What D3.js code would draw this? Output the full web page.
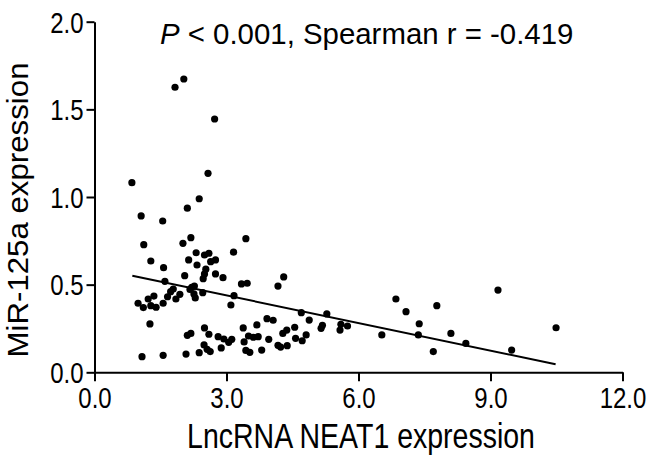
<!DOCTYPE html>
<html>
<head>
<meta charset="utf-8">
<script src="https://cdn.jsdelivr.net/npm/d3@7"></script>
<style>
  body { margin: 0; background: #fff; }
  text { font-family: "Liberation Sans", Arial, sans-serif; fill: #000; }
</style>
</head>
<body>
<svg id="chart"></svg>
<script>
// values
const neat1 = [1.83, 2.03, 2.73, 0.85, 2.58, 2.38, 2.11, 1.06, 1.55, 1.12,
  1.28, 1.57, 2.01, 2.19, 2.31, 2.50, 2.60, 2.14, 2.33, 2.64,
  2.75, 2.53, 2.50, 2.47, 2.75, 2.92, 3.16, 3.44, 2.05, 1.60,
  1.79, 1.73, 1.94, 2.21, 2.27, 2.17, 2.26, 2.29, 2.46, 3.34,
  3.47, 4.17, 3.17, 3.10, 1.66, 1.85, 1.35, 1.22, 0.99, 1.11,
  1.28, 1.40, 1.56, 1.26, 2.50, 2.60, 2.11, 2.19, 2.81, 2.94,
  3.12, 3.05, 2.49, 2.56, 2.63, 2.88, 2.38, 2.08, 1.56, 1.08,
  3.38, 3.69, 3.92, 4.06, 3.50, 3.61, 3.72, 3.40, 3.96, 4.17,
  3.44, 3.53, 3.80, 4.30, 4.70, 4.88, 4.55, 4.37, 4.28, 4.57,
  4.72, 4.81, 4.23, 4.38, 5.28, 5.18, 5.15, 5.60, 5.75, 5.58,
  6.53, 6.85, 7.08, 7.38, 7.36, 7.78, 8.10, 7.70, 8.44, 9.17,
  9.48, 10.49];
const mir125a = [1.626, 1.673, 1.445, 1.082, 1.135, 0.990, 0.936, 0.892, 0.863, 0.728,
  0.635, 0.597, 0.736, 0.768, 0.682, 0.669, 0.679, 0.641, 0.612, 0.631,
  0.641, 0.588, 0.561, 0.534, 0.561, 0.540, 0.685, 0.762, 0.551, 0.519,
  0.475, 0.460, 0.445, 0.485, 0.492, 0.473, 0.447, 0.424, 0.454, 0.504,
  0.508, 0.492, 0.437, 0.384, 0.431, 0.418, 0.435, 0.418, 0.394, 0.369,
  0.380, 0.371, 0.394, 0.276, 0.253, 0.217, 0.211, 0.222, 0.203, 0.190,
  0.188, 0.171, 0.156, 0.131, 0.118, 0.139, 0.112, 0.104, 0.097, 0.089,
  0.253, 0.270, 0.306, 0.297, 0.207, 0.200, 0.203, 0.173, 0.188, 0.154,
  0.125, 0.114, 0.127, 0.544, 0.340, 0.298, 0.257, 0.241, 0.222, 0.194,
  0.180, 0.213, 0.144, 0.152, 0.333, 0.268, 0.251, 0.274, 0.264, 0.241,
  0.213, 0.418, 0.346, 0.277, 0.213, 0.380, 0.222, 0.118, 0.165, 0.469,
  0.127, 0.254];

// fitted line end points
const fitX = [0.86, 10.48];
const fitY = [0.551, 0.046];

const xTicks = [0, 3, 6, 9, 12];
const yTicks = [0, 0.5, 1.0, 1.5, 2.0];

const W = 648, H = 455;
const margin = { top: 21.7, right: 25.5, bottom: 82.7, left: 94.5 };
const width = W - margin.left - margin.right;
const height = H - margin.top - margin.bottom;

const svg = d3.select('#chart').attr('width', W).attr('height', H);
const g = svg.append('g').attr('transform', `translate(${margin.left}, ${margin.top})`);

const x = d3.scaleLinear().domain([0, 12]).range([0, width]);
const y = d3.scaleLinear().domain([0, 2]).range([height, 0]);

// axes
const xAxis = g.append('g')
  .attr('transform', `translate(0, ${height})`)
  .call(d3.axisBottom(x).tickValues(xTicks).tickFormat(d3.format('.1f')).tickSize(9).tickSizeOuter(0));
const yAxis = g.append('g')
  .call(d3.axisLeft(y).tickValues(yTicks).tickFormat(d3.format('.1f')).tickSize(8).tickSizeOuter(0));

[xAxis, yAxis].forEach(a => {
  a.select('.domain').attr('stroke-width', 2);
  a.selectAll('.tick line').attr('stroke-width', 2);
  a.selectAll('.tick text').attr('font-size', 24).attr('font-family', '"Liberation Sans", Arial, sans-serif')
    .attr('x', 0).attr('y', 0).attr('dy', 0);
});
// tick labels are slightly tall/narrow in the original
xAxis.selectAll('.tick text').attr('transform', 'translate(0, 36) scale(1, 1.2)');
yAxis.selectAll('.tick text').attr('transform', 'translate(-11, 10.3) scale(1, 1.2)');

// regression line
g.append('line')
  .attr('x1', x(fitX[0])).attr('y1', y(fitY[0]))
  .attr('x2', x(fitX[1])).attr('y2', y(fitY[1]))
  .attr('stroke', '#000').attr('stroke-width', 2);

// points
const pts = neat1.map((v, i) => ({ x: v, y: mir125a[i] }));
g.selectAll('.dot')
  .data(pts)
  .enter()
  .append('circle')
  .attr('class', 'dot')
  .attr('cx', d => x(d.x))
  .attr('cy', d => y(d.y))
  .attr('r', 3.6)
  .attr('fill', '#000');

// title
const title = svg.append('text').attr('x', 160).attr('y', 44).attr('font-size', 29.4);
title.append('tspan').attr('font-style', 'italic').text('P');
title.append('tspan').text(' < 0.001, Spearman r = -0.419');

// axis labels
svg.append('text').attr('transform', 'translate(361, 448) scale(1, 1.2)').attr('text-anchor', 'middle').attr('font-size', 28.5)
  .text('LncRNA NEAT1 expression');
svg.append('text').attr('transform', 'translate(28, 210) rotate(-90) scale(1.077, 1)').attr('text-anchor', 'middle').attr('font-size', 29)
  .text('MiR-125a expression');
</script>
</body>
</html>
